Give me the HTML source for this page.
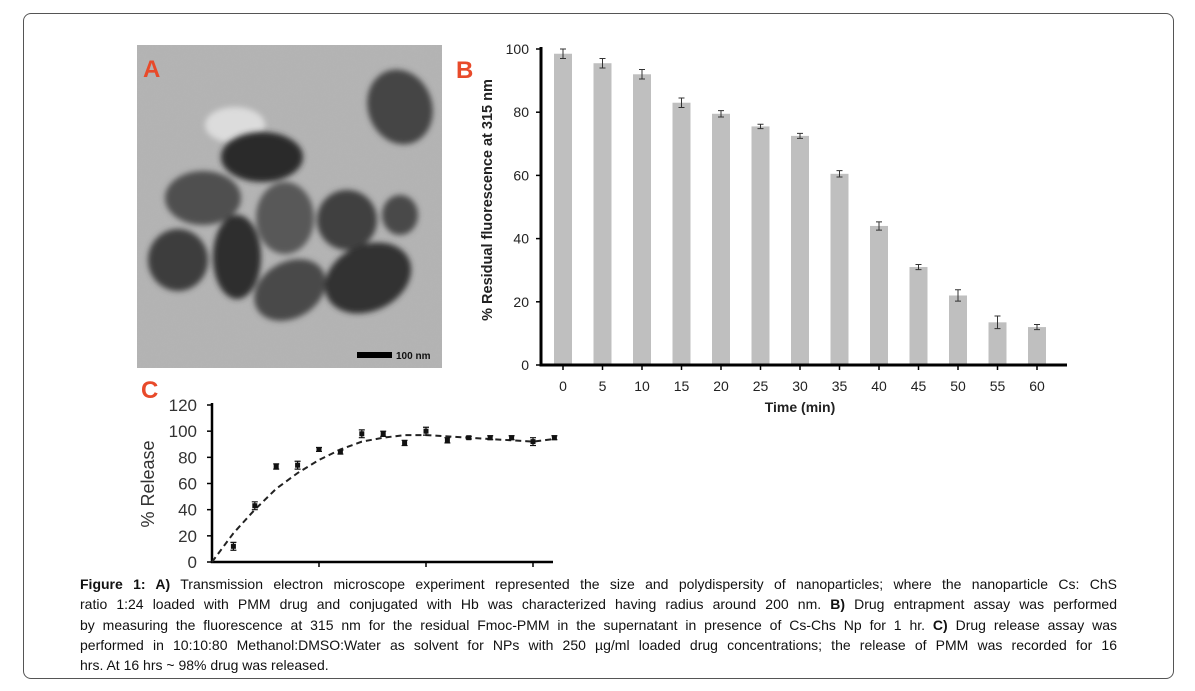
<!DOCTYPE html>
<html><head><meta charset="utf-8"><style>
body{margin:0;width:1195px;height:691px;background:#fff;font-family:"Liberation Sans",sans-serif;position:relative;overflow:hidden}
#frame{position:absolute;left:23px;top:13px;width:1151px;height:666px;border:1px solid #555;border-radius:8px;box-sizing:border-box}
#caption{position:absolute;left:80px;top:574px;width:1037px;font-size:14px;line-height:20.3px;color:#111}
#caption span{display:block;text-align:justify;text-align-last:justify;white-space:nowrap;}
#caption span.last{text-align-last:left}
svg{position:absolute;left:0;top:0}
</style></head><body>
<div id="frame"></div>
<svg width="1195" height="691">
<defs><filter id="blur" x="-20%" y="-20%" width="140%" height="140%"><feGaussianBlur stdDeviation="3"/></filter>
<filter id="noise" x="0" y="0" width="1" height="1"><feTurbulence baseFrequency="0.9" numOctaves="1" result="t"/><feColorMatrix type="matrix" values="0 0 0 0 0.5 0 0 0 0 0.5 0 0 0 0 0.5 0 0 0 0.25 0"/></filter>
<clipPath id="temclip"><rect x="137" y="45" width="305" height="323"/></clipPath></defs>
<g clip-path="url(#temclip)">
<rect x="137" y="45" width="305" height="323" fill="#b3b3b3"/>
<rect x="137" y="45" width="305" height="323" filter="url(#noise)"/>
<ellipse cx="235" cy="125" rx="30" ry="18" fill="#dcdcdc" filter="url(#blur)"/>
<g filter="url(#blur)" fill="#3a3a3a">
<ellipse cx="400" cy="107" rx="32" ry="38" transform="rotate(-20 400 107)" fill="#444"/>
<ellipse cx="262" cy="157" rx="41" ry="25" fill="#2a2a2a"/>
<ellipse cx="203" cy="198" rx="38" ry="27" fill="#505050"/>
<ellipse cx="285" cy="218" rx="29" ry="36" fill="#585858"/>
<ellipse cx="347" cy="220" rx="30" ry="30" fill="#404040"/>
<ellipse cx="400" cy="215" rx="18" ry="20" fill="#4a4a4a"/>
<ellipse cx="178" cy="260" rx="30" ry="31" fill="#3e3e3e"/>
<ellipse cx="237" cy="257" rx="24" ry="42" fill="#2e2e2e"/>
<ellipse cx="290" cy="290" rx="38" ry="28" transform="rotate(-30 290 290)" fill="#4a4a4a"/>
<ellipse cx="368" cy="278" rx="45" ry="33" transform="rotate(-25 368 278)" fill="#333"/>
</g>
<rect x="357" y="352" width="35" height="6" fill="#000"/>
<text x="396" y="359" font-size="10" font-weight="bold" fill="#111">100 nm</text>
<text x="143" y="77" font-size="24" font-weight="bold" fill="#e84a2a">A</text>
</g>
<text x="456" y="78" font-size="24" font-weight="bold" fill="#e84a2a">B</text>
<text x="141" y="398" font-size="24" font-weight="bold" fill="#e84a2a">C</text>
<g id="chartB"></g>
<g id="chartC"></g>
</svg>
<div id="caption">
<span><b>Figure 1: A)</b> Transmission electron microscope experiment represented the size and polydispersity of nanoparticles; where the nanoparticle Cs: ChS</span>
<span>ratio 1:24 loaded with PMM drug and conjugated with Hb was characterized having radius around 200 nm. <b>B)</b> Drug entrapment assay was performed</span>
<span>by measuring the fluorescence at 315 nm for the residual Fmoc-PMM in the supernatant in presence of Cs-Chs Np for 1 hr. <b>C)</b> Drug release assay was</span>
<span>performed in 10:10:80 Methanol:DMSO:Water as solvent for NPs with 250 µg/ml loaded drug concentrations; the release of PMM was recorded for 16</span>
<span class="last">hrs. At 16 hrs ~ 98% drug was released.</span>
</div>
<script>
const bCats=[0,5,10,15,20,25,30,35,40,45,50,55,60];
const bVals=[98.5,95.5,92,83,79.5,75.5,72.5,60.5,44,31,22,13.5,12];
const bErrs=[1.5,1.5,1.5,1.5,1,0.7,0.8,1,1.3,0.8,1.8,2,0.8];
const bTicks=[0,20,40,60,80,100];
const cHours=[1,2,3,4,5,6,7,8,9,10,11,12,13,14,15,16];
const cVals=[12,43,73,74,86,84,98,98,91,100,93,95,95,95,92,95];
const cErrs=[3,3,2,3,1.5,1.5,3,2,2,3,2,1,1.5,1.5,3,1.5];
const cFitHours=[0,1,2,3,4,5,6,7,8,9,10,11,12,13,14,15,16];
const cFit=[0,22,40,56,68,78,86,92,95,97,97,96,95,94,93,92,94];
const cTicks=[0,20,40,60,80,100,120];
const NS="http://www.w3.org/2000/svg";
function mk(p,t,a){const e=document.createElementNS(NS,t);for(const k in a)e.setAttribute(k,a[k]);p.appendChild(e);return e;}
(function(){
const g=document.getElementById('chartB');
const x0=541,y0=365,yTop=49;
const y=v=>y0-(v/100)*(y0-yTop);
const x=i=>563+i*39.5;
bTicks.forEach(t=>{const tx=mk(g,'text',{x:x0-12,y:y(t)+5,'font-size':14,'text-anchor':'end',fill:'#222'});tx.textContent=t;


mk(g,'line',{x1:x0-5,x2:x0,y1:y(t),y2:y(t),stroke:'#000','stroke-width':1.5});});
bCats.forEach((c,i)=>{
const r=mk(g,'rect',{x:x(i)-9,y:y(bVals[i]),width:18,height:y0-y(bVals[i]),fill:'#bfbfbf'});


const e1=y(bVals[i]+bErrs[i]),e2=y(bVals[i]-bErrs[i]);
const eb=mk(g,'path',{d:`M${x(i)} ${e1}V${e2}M${x(i)-3} ${e1}H${x(i)+3}M${x(i)-3} ${e2}H${x(i)+3}`,stroke:'#333','stroke-width':1,fill:'none'});


mk(g,'line',{x1:x(i),x2:x(i),y1:y0,y2:y0+5,stroke:'#000','stroke-width':1.5});
const tx=mk(g,'text',{x:x(i),y:y0+26,'font-size':14,'text-anchor':'middle',fill:'#222'});tx.textContent=c;


});
const ax=mk(g,'path',{d:`M${x0} ${yTop-2}V${y0}H1067`,stroke:'#000','stroke-width':3,fill:'none'});


const xt=mk(g,'text',{x:800,y:412,'font-size':14,'font-weight':'bold','text-anchor':'middle',fill:'#222'});xt.textContent='Time (min)';


const yt=mk(g,'text',{x:0,y:0,'font-size':14.5,'font-weight':'bold','text-anchor':'middle',fill:'#222',transform:'translate(492,200) rotate(-90)'});yt.textContent='% Residual fluorescence  at 315 nm';


})();
(function(){
const g=document.getElementById('chartC');
const x0=212,y0=562,yTop=405;
const y=v=>y0-(v/120)*(y0-yTop);
const x=h=>x0+h*21.4;
cTicks.forEach(t=>{const tx=mk(g,'text',{x:x0-15,y:y(t)+6,'font-size':17,'text-anchor':'end',fill:'#333'});tx.textContent=t;


mk(g,'line',{x1:x0-5,x2:x0,y1:y(t),y2:y(t),stroke:'#000','stroke-width':1.5});});
[5,10,15].forEach(h=>mk(g,'line',{x1:x(h),x2:x(h),y1:y0,y2:y0+5,stroke:'#000','stroke-width':1.5}));
const ax=mk(g,'path',{d:`M${x0} ${yTop-2}V${y0}H553`,stroke:'#000','stroke-width':2.5,fill:'none'});


const fit=mk(g,'path',{d:cFitHours.map((h,i)=>(i?'L':'M')+x(h)+' '+y(cFit[i])).join(''),stroke:'#222','stroke-width':2,'stroke-dasharray':'6 4',fill:'none'});


cHours.forEach((h,i)=>{
const e1=y(cVals[i]+cErrs[i]),e2=y(cVals[i]-cErrs[i]);
const eb=mk(g,'path',{d:`M${x(h)} ${e1}V${e2}M${x(h)-3} ${e1}H${x(h)+3}M${x(h)-3} ${e2}H${x(h)+3}`,stroke:'#111','stroke-width':1.2,fill:'none'});


const p=mk(g,'rect',{x:x(h)-2.5,y:y(cVals[i])-2.5,width:5,height:5,fill:'#111'});


});
const yt=mk(g,'text',{x:0,y:0,'font-size':18,'text-anchor':'middle',fill:'#333',transform:'translate(154,484) rotate(-90)'});yt.textContent='% Release';


})();
</script>
</body></html>
